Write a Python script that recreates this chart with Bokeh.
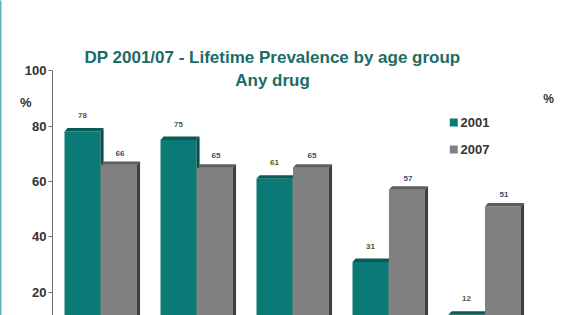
from bokeh.plotting import figure
from bokeh.models import Range1d, FixedTicker, LinearAxis
from bokeh.embed import file_html
from bokeh.resources import INLINE
from bokeh.core.properties import value

# ---- data ----
groups = [0, 1, 2, 3, 4]
values_2001 = [78, 75, 61, 31, 12]
values_2007 = [66, 65, 65, 57, 51]
y_ticks = [20, 40, 60, 80, 100]
series_names = ["2001", "2007"]
title_lines = ["DP 2001/07 - Lifetime Prevalence by age group", "Any drug"]

# ---- styles ----
TEAL = "#0b7a76"
TEAL_TOP = "#0a5b57"
TEAL_SIDE = "#084a47"
GRAY = "#808080"
GRAY_TOP = "#5e5e5e"
GRAY_SIDE = "#3f3f3f"
TITLE_C = "#1b6b66"
TXT = "#333333"
FONT = "Liberation Sans"

BW = 0.375      # bar width (category units)
DX = 0.032      # 3d depth x
DY = 1.25       # 3d depth y

p = figure(width=570, height=315, output_backend="svg", toolbar_location=None,
           x_range=Range1d(0, 5.396), y_range=Range1d(11.71, 125.23),
           min_border_left=52, min_border_right=0, min_border_top=0, min_border_bottom=0)
p.outline_line_color = None
p.xgrid.visible = False
p.ygrid.visible = False
p.xaxis.visible = False

yax = p.yaxis[0]
yax.ticker = FixedTicker(ticks=y_ticks)
yax.bounds = (0, 100)
yax.axis_line_color = "#6f6f6f"
yax.major_tick_line_color = "#6f6f6f"
yax.major_tick_in = 0
yax.major_tick_out = 4
yax.minor_tick_line_color = None
yax.major_label_standoff = 2
yax.major_label_text_font = FONT
yax.major_label_text_font_style = "bold"
yax.major_label_text_font_size = "13px"
yax.major_label_text_color = TXT

# unit axis: only the "%" label, to the left of the value axis
pct_axis = LinearAxis(ticker=FixedTicker(ticks=[88.5]), major_label_overrides={88.5: "%"},
                      axis_line_color=None, major_tick_line_color=None, minor_tick_line_color=None,
                      major_tick_in=0, major_tick_out=0, major_label_standoff=-10,
                      major_label_text_font=FONT, major_label_text_font_style="bold",
                      major_label_text_font_size="13px", major_label_text_color=TXT,
                      axis_label=" ", axis_label_standoff=12, axis_label_text_font_size="1px")
p.add_layout(pct_axis, "left")

# slide border line on the far left
border_axis = LinearAxis(ticker=FixedTicker(ticks=[]), axis_line_color="#5fb3b0",
                         axis_line_width=2, major_tick_line_color=None,
                         minor_tick_line_color=None, major_tick_in=0, major_tick_out=0)
p.add_layout(border_axis, "left")


def bars(vals, offset, face, top, side):
    cx = [g + 0.5 + offset for g in groups]
    left = [c - BW / 2 for c in cx]
    right = [c + BW / 2 for c in cx]
    base = 0
    p.vbar(x=cx, top=vals, bottom=base, width=BW, fill_color=face, line_color=None)
    tops_x = [[l, l + DX, r + DX, r] for l, r in zip(left, right)]
    tops_y = [[v, v + DY, v + DY, v] for v in vals]
    p.patches(tops_x, tops_y, fill_color=top, line_color=None)
    sides_x = [[r, r + DX, r + DX, r] for r in right]
    sides_y = [[v, v + DY, base, base] for v in vals]
    p.patches(sides_x, sides_y, fill_color=side, line_color=None)
    return cx


cx01 = bars(values_2001, -0.1875, TEAL, TEAL_TOP, TEAL_SIDE)
cx07 = bars(values_2007, 0.1925, GRAY, GRAY_TOP, GRAY_SIDE)

# value labels
p.text(x=cx01, y=[v + 5.7 for v in values_2001], text=[str(v) for v in values_2001],
       text_font=value(FONT), text_font_style="bold", text_font_size="8px",
       text_color="#55553a", text_align="center", text_baseline="middle")
p.text(x=[c + 0.01 for c in cx07], y=[v + 4.2 for v in values_2007], text=[str(v) for v in values_2007],
       text_font=value(FONT), text_font_style="bold", text_font_size="8px",
       text_color="#34507e", text_align="center", text_baseline="middle")

# title
p.text(x=[2.292, 2.292], y=[104.7, 96.4], text=title_lines,
       text_font=value(FONT), text_font_style="bold", text_font_size="17px",
       text_color=TITLE_C, text_align="center", text_baseline="middle")

# legend
p.scatter(x=[4.18, 4.18], y=[81.3, 71.5], marker="square", size=8,
          fill_color=[TEAL, GRAY], line_color=None)
p.text(x=[4.25, 4.25], y=[81.3, 71.5], text=series_names,
       text_font=value(FONT), text_font_style="bold", text_font_size="13px",
       text_color=TXT, text_align="left", text_baseline="middle")

# right "%" label
p.text(x=[5.167], y=[89.9], text=["%"], text_font=value(FONT), text_font_style="bold",
       text_font_size="12px", text_color=TXT, text_align="center", text_baseline="middle")

open("out.html", "w").write(file_html(p, INLINE))
